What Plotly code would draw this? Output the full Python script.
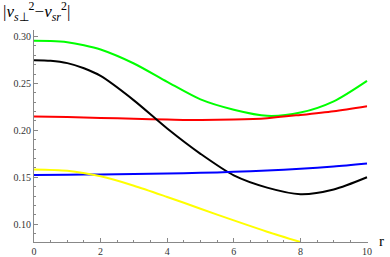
import plotly.graph_objects as go

r_pts = [0, 1, 2, 3, 4, 5, 6, 7, 8, 9, 10]
r_fine = [0, 0.5, 1, 1.5, 2, 3, 4, 5, 6, 7, 8, 9, 10]
green = [0.2955, 0.2953, 0.294, 0.2908, 0.2862, 0.2713, 0.2517, 0.233, 0.222, 0.2155, 0.219, 0.231, 0.2528]
black = [0.2748, 0.2742, 0.2717, 0.2662, 0.258, 0.232, 0.202, 0.175, 0.152, 0.139, 0.132, 0.137, 0.150]
red = [0.2148, 0.2142, 0.2133, 0.2124, 0.2116, 0.2110, 0.2115, 0.2130, 0.2165, 0.2205, 0.2258]
blue = [0.1525, 0.1527, 0.1530, 0.1535, 0.1540, 0.1547, 0.1558, 0.1572, 0.1590, 0.1615, 0.1647]
r_yellow = [0, 1, 2, 3, 4, 5, 6, 7, 8]
yellow = [0.1584, 0.157, 0.151, 0.141, 0.129, 0.1165, 0.104, 0.092, 0.081]

x_ticks = [0, 2, 4, 6, 8, 10]
y_ticks = [0.10, 0.15, 0.20, 0.25, 0.30]

fig = go.Figure()
series = [
    (r_fine, green, "#00ff00"),
    (r_pts, red, "#ff0000"),
    (r_fine, black, "#000000"),
    (r_pts, blue, "#0000ff"),
    (r_yellow, yellow, "#ffff00"),
]
for xs, ys, c in series:
    fig.add_trace(go.Scatter(x=xs, y=ys, mode="lines",
                             line=dict(color=c, width=2, shape="spline", smoothing=0.8),
                             showlegend=False, hoverinfo="skip"))

font = dict(family="Liberation Serif", size=10, color="#333333")
fig.update_layout(
    width=390, height=257,
    margin=dict(l=34, r=22, t=30, b=15),
    plot_bgcolor="white", paper_bgcolor="white",
    font=font,
    xaxis=dict(range=[0, 10.03], tickvals=x_ticks, ticktext=[str(v) for v in x_ticks],
               automargin=False,
               showgrid=False, zeroline=False, showline=True, linecolor="#888888", linewidth=1,
               ticks="inside", ticklen=4, tickcolor="#888888",
               minor=dict(dtick=0.5, ticks="inside", ticklen=2, tickcolor="#888888"),
               tickfont=font),
    yaxis=dict(range=[0.081, 0.307], tickvals=y_ticks, ticktext=["%.2f" % v for v in y_ticks],
               automargin=False,
               showgrid=False, zeroline=False, showline=True, linecolor="#888888", linewidth=1,
               ticks="inside", ticklen=4, tickcolor="#888888",
               minor=dict(dtick=0.01, ticks="inside", ticklen=2, tickcolor="#888888"),
               tickfont=font),
)
fig.add_annotation(xref="paper", yref="paper", x=1.0, y=0.0, xshift=9, yshift=1,
                   text="r", showarrow=False, xanchor="left", yanchor="middle",
                   font=dict(family="Liberation Serif", size=15, color="#000000"))
fig.add_annotation(xref="paper", yref="paper", x=0, y=1, xshift=-33, yshift=4,
                   text="|<i>v</i><sub><i>s</i>\u22a5</sub><sup>2</sup>\u2212<i>v</i><sub><i>sr</i></sub><sup>2</sup>|",
                   showarrow=False, xanchor="left", yanchor="bottom",
                   font=dict(family="Liberation Serif", size=17, color="#000000"))
fig.write_html("out.html", config={"displayModeBar": False},
               post_script="document.body.style.margin='0';document.body.style.overflow='hidden';")
